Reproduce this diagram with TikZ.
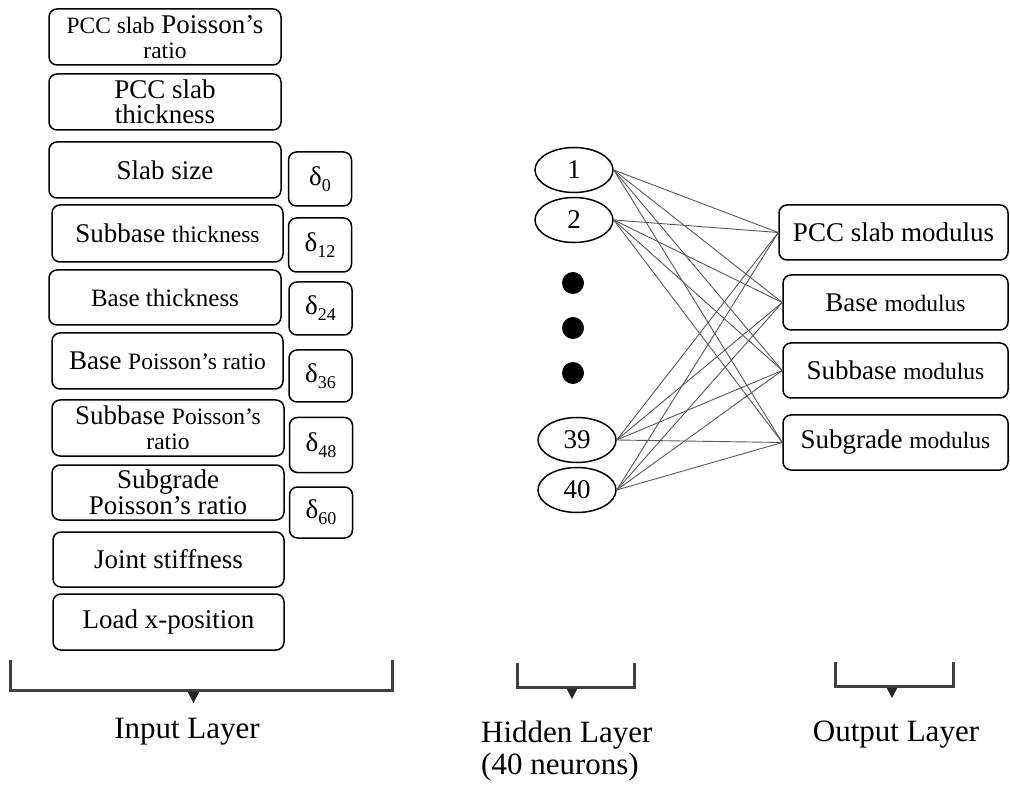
\documentclass[tikz,border=0pt]{standalone}
\usepackage{fontspec}
\setmainfont{Liberation Serif}
\usetikzlibrary{shapes.geometric}
\newcommand\bigf{\fontsize{27}{25}\selectfont}
\newcommand\smf{\fontsize{23.5}{25}\selectfont}
\newcommand\midf{\fontsize{25}{25}\selectfont}
\newcommand\labf{\fontsize{31}{32}\selectfont}
\newcommand\dl[1]{δ\raisebox{-6pt}{\fontsize{18}{18}\selectfont #1}}
\tikzset{
  inbox/.style={draw, rounded corners=8pt, line width=1.5pt, inner sep=0pt, align=center, font=\bigf, minimum width=232pt},
  dbox/.style={draw, rounded corners=8pt, line width=1.5pt, inner sep=0pt, font=\bigf, minimum width=63pt},
  outbox/.style={draw, rounded corners=8pt, line width=1.5pt, inner sep=0pt, font=\bigf, minimum height=55pt},
  neuron/.style={draw, ellipse, line width=1.5pt, inner sep=0pt, minimum width=78pt, minimum height=45pt, font=\bigf},
  bigdot/.style={circle, fill=black, inner sep=0pt, minimum size=22pt},
  conn/.style={draw=black!65, line width=0.9pt},
  brk/.style={draw=black!75, line width=3pt},
  tri/.style={fill=black!85},
  lbl/.style={font=\labf, inner sep=0pt}
}
\begin{document}
\begin{tikzpicture}[x=1pt, y=-1pt]
\useasboundingbox (0,0) rectangle (1010,786);
% input boxes
\node[inbox, minimum height=56pt] (i1) at (165,37) {{\smf PCC slab} Poisson’s\\ {\smf ratio}};
\node[inbox, minimum height=56pt] (i2) at (165,102) {PCC slab\\ thickness};
\node[inbox, minimum height=56pt] (i3) at (165,170) {Slab size};
\node[inbox, minimum height=57pt, minimum width=231pt] (i4) at (167.5,233.5) {Subbase {\smf thickness}};
\node[inbox, minimum height=55pt] (i5) at (165,297.5) {\midf Base thickness};
\node[inbox, minimum height=56pt, minimum width=231pt] (i6) at (167.5,361) {Base {\smf Poisson’s ratio}};
\node[inbox, minimum height=56pt] (i7) at (168,428) {Subbase {\smf Poisson’s}\\ {\smf ratio}};
\node[inbox, minimum height=55pt] (i8) at (168,492.5) {Subgrade\\[1pt] Poisson’s ratio};
\node[inbox, minimum height=55pt, minimum width=231pt] (i9) at (168.5,559.5) {Joint stiffness};
\node[inbox, minimum height=56pt, minimum width=231pt] (i10) at (168.5,622) {Load x-position};
% delta boxes
\node[dbox, minimum height=54pt] (d0) at (320,179) {\dl{0}};
\node[dbox, minimum height=54pt] (d12) at (320,245) {\dl{12}};
\node[dbox, minimum height=53pt] (d24) at (320.5,308.5) {\dl{24}};
\node[dbox, minimum height=52pt] (d36) at (320.5,376) {\dl{36}};
\node[dbox, minimum height=55pt] (d48) at (321,445) {\dl{48}};
\node[dbox, minimum height=51pt] (d60) at (321,512.5) {\dl{60}};
% hidden neurons
\node[neuron] (n1) at (574,170) {1};
\node[neuron] (n2) at (574,220) {2};
\node[bigdot] (p1) at (573,283) {};
\node[bigdot] (p2) at (573,328) {};
\node[bigdot] (p3) at (573,373) {};
\node[neuron] (n39) at (577,440) {39};
\node[neuron] (n40) at (577,490) {40};
% outputs
\node[outbox, minimum width=229pt] (o1) at (893.5,232.5) {PCC slab modulus};
\node[outbox, minimum width=225pt] (o2) at (895.5,302.5) {Base {\smf modulus}};
\node[outbox, minimum width=225pt] (o3) at (895.5,370.5) {Subbase {\smf modulus}};
\node[outbox, minimum width=225pt] (o4) at (895.5,442.5) {Subgrade {\smf modulus}};
% connections
\foreach \h in {n1,n2,n39,n40}
  \foreach \o in {o1,o2,o3,o4}
    \draw[conn] (\h.east) -- (\o.west);
% brackets
\draw[brk] (10,660) -- (10,690) -- (392,690) -- (392,660);
\fill[tri] (187.5,691.5) -- (199.5,691.5) -- (193.5,703) -- cycle;
\draw[brk] (517,663) -- (517,687) -- (634,687) -- (634,663);
\fill[tri] (566.5,688.5) -- (577.5,688.5) -- (572,699) -- cycle;
\draw[brk] (835,662) -- (835,686) -- (953,686) -- (953,662);
\fill[tri] (886.5,687.5) -- (897.5,687.5) -- (892,698) -- cycle;
% labels
\node[lbl] (lin) at (187,732) {Input Layer};
\node[lbl, anchor=west, align=left] (lhid) at (481,751) {Hidden Layer\\ (40 neurons)};
\node[lbl] (lout) at (896,735) {Output Layer};
\end{tikzpicture}
\end{document}
